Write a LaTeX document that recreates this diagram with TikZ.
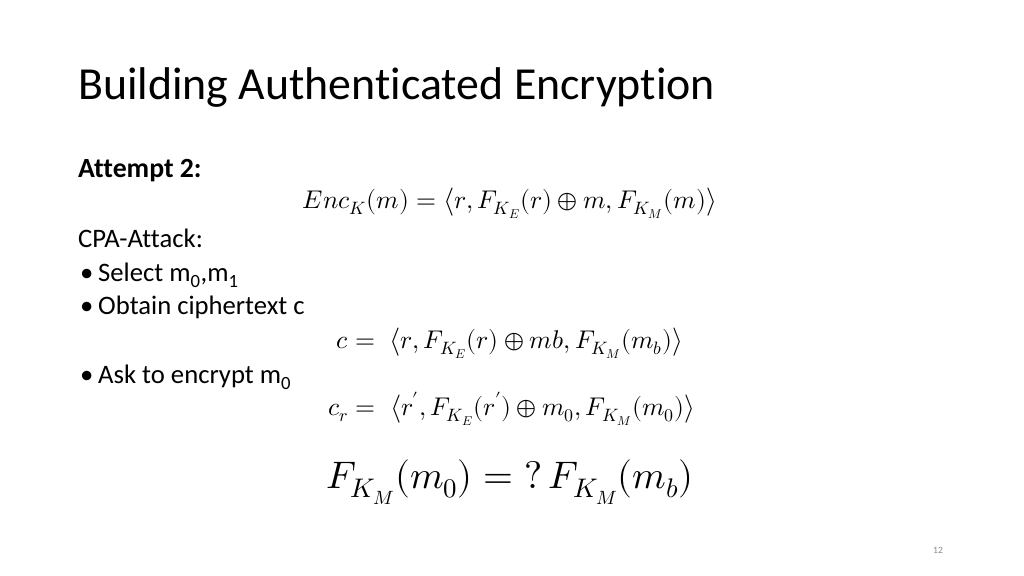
\documentclass[tikz,border=0pt]{standalone}
\usepackage{amsmath}
\usepackage{fontspec}
\usepackage{unicode-math}
\setmainfont{Carlito}[Ligatures=NoCommon]
\setmathfont{Latin Modern Math}
\usepackage{xcolor}
\definecolor{numgray}{RGB}{137,137,137}

\begin{document}
\begin{tikzpicture}[x=0.9375pt,y=-0.9375pt]
\tikzset{
    txt/.style={%
        anchor=base west,
        inner sep=0pt,
        font=\fontsize{25}{30}\selectfont
        },
    eqn/.style={%
        anchor=base,
        inner sep=0pt,
        font=\fontsize{24}{28}\selectfont
        },
}
\useasboundingbox (0,0) rectangle (1024,576);
%%%TITLE
\node[txt, font=\fontsize{43}{48}\selectfont] (title) at (78,100) {Building Authenticated Encryption};
%%%TEXT
\node[txt, font=\fontsize{26}{30}\bfseries] (att) at (78,177) {Attempt 2:};
\node[txt] (cpa) at (78,247) {CPA-Attack:};
\foreach \y/\t [count=\i] in {281/{Select m\textsubscript{0},m\textsubscript{1}},
    314/{Obtain ciphertext c}, 383/{Ask to encrypt m\textsubscript{0}}}{
  \node[txt] (dot\i) at (80,\y) {\textbullet};
  \node[txt] (b\i) at (98,\y) {\t};
}
%%%EQUATIONS
\node[eqn] (enc) at (510,208) {$Enc_K(m)=\big\langle r,F_{K_E}(r)\oplus m,F_{K_M}(m)\big\rangle$};
\node[eqn] (c) at (510,348) {$c=\;\big\langle r,F_{K_E}(r)\oplus mb,F_{K_M}(m_b)\big\rangle$};
\node[eqn] (cr) at (512,415) {$c_r=\;\big\langle r',F_{K_E}(r')\oplus m_0,F_{K_M}(m_0)\big\rangle$};
\node[eqn, font=\fontsize{36}{40}\selectfont] (cmp) at (510,488) {$F_{K_M}(m_0)=?\,F_{K_M}(m_b)$};
%%%PAGE NUMBER
\node[eqn, font=\fontsize{9}{10}\selectfont, text=numgray] (pg) at (938,553) {12};
\end{tikzpicture}
\end{document}
